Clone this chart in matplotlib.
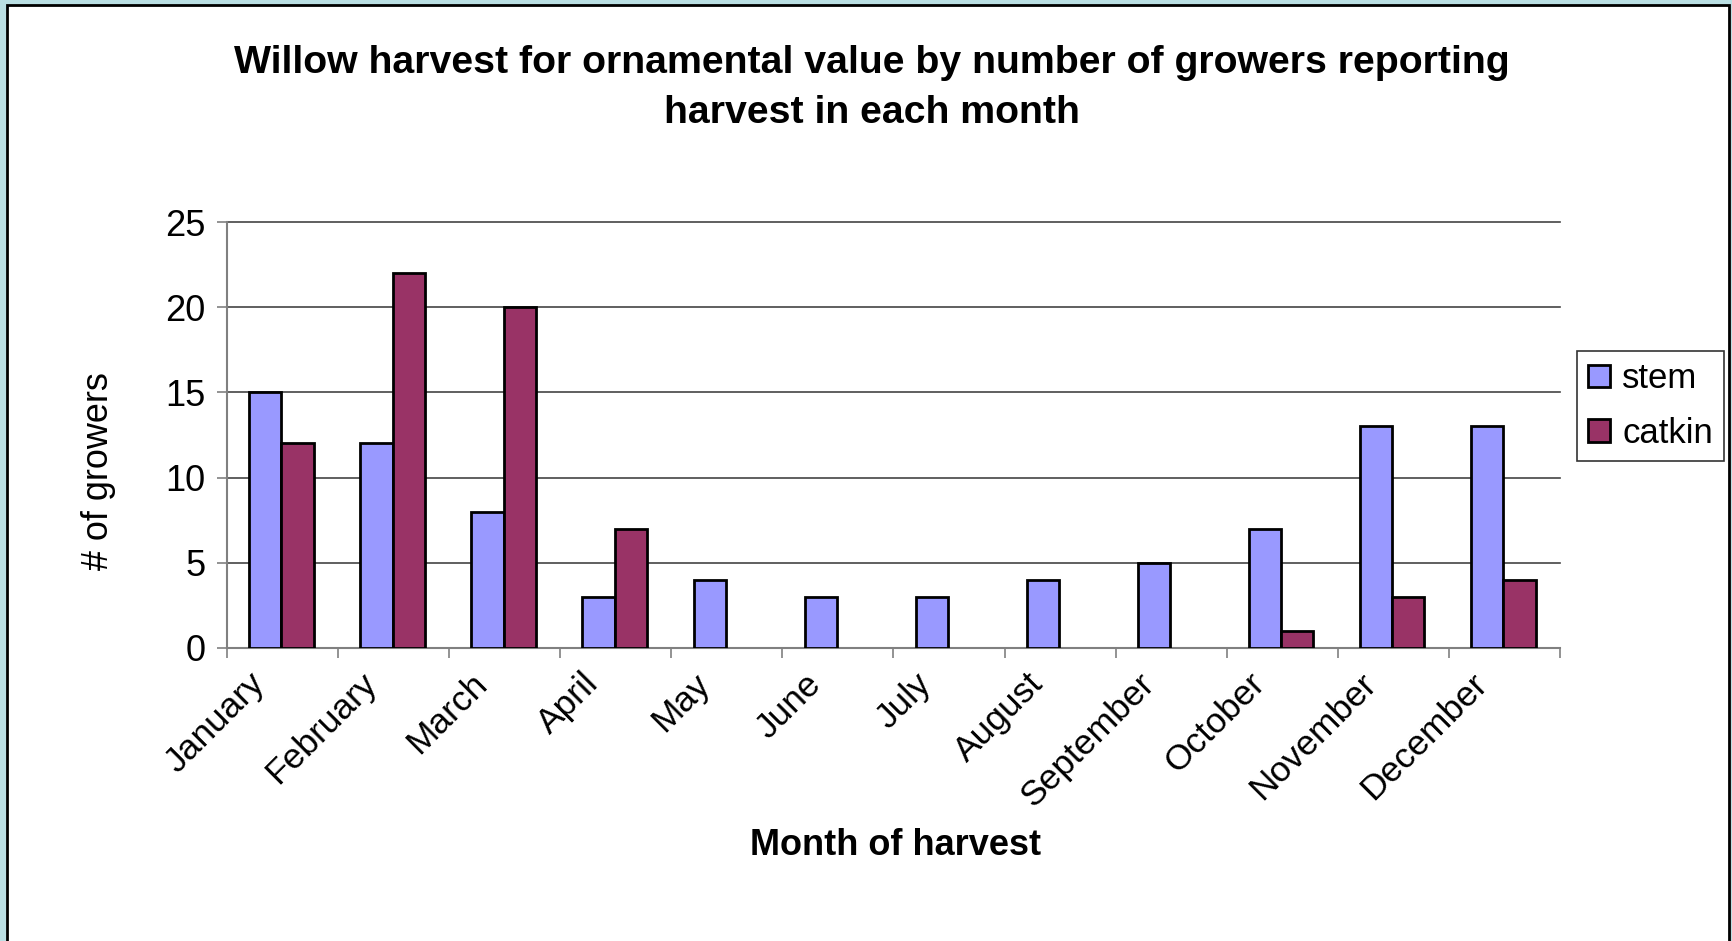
import matplotlib
matplotlib.use("Agg")
import matplotlib.pyplot as plt
from matplotlib.patches import Rectangle
from matplotlib.transforms import ScaledTranslation
import numpy as np

months = ["January", "February", "March", "April", "May", "June", "July",
          "August", "September", "October", "November", "December"]
stem = [15, 12, 8, 3, 4, 3, 3, 4, 5, 7, 13, 13]
catkin = [12, 22, 20, 7, 0, 0, 0, 0, 0, 1, 3, 4]
series_names = ["stem", "catkin"]
yticks = [0, 5, 10, 15, 20, 25]
title_lines = ["Willow harvest for ornamental value by number of growers reporting",
               "harvest in each month"]
xlabel = "Month of harvest"
ylabel = "# of growers"

W, H = 1733, 941
plt.rcParams['font.family'] = ['Liberation Sans', 'DejaVu Sans']
fig = plt.figure(figsize=(W / 100, H / 100), dpi=100)
fig.patch.set_facecolor('#BADFE3')

def fx(px):
    return px / W

def fy(py):
    return 1 - py / H

# white inner panel with black border
fig.patches.append(Rectangle((fx(7), fy(960)), fx(1729) - fx(7), fy(5) - fy(960),
                             transform=fig.transFigure, facecolor='white',
                             edgecolor='black', linewidth=2, zorder=-10))

left, right, top, bottom = 227, 1560, 222.5, 647.5
ax = fig.add_axes([fx(left), fy(bottom), fx(right) - fx(left), fy(top) - fy(bottom)])
ax.set_facecolor('none')
ax.set_zorder(2)

x = np.arange(len(months))
bw = 0.29
b1 = ax.bar(x - bw / 2 - 0.01, stem, width=bw, color='#9999FF', edgecolor='black',
            linewidth=2, label=series_names[0], zorder=3)
b2 = ax.bar(x + bw / 2 - 0.01, catkin, width=bw, color='#993366', edgecolor='black',
            linewidth=2, label=series_names[1], zorder=3)
for bars in (b1, b2):
    for p in bars:
        if p.get_height() == 0:
            p.set_visible(False)

ax.set_xlim(-0.5, len(months) - 0.5)
ax.set_ylim(0, 25)
ax.set_yticks(yticks)
ax.set_yticklabels([str(v) for v in yticks], fontsize=26)
ax.yaxis.grid(True, color='#444444', linewidth=1.2, zorder=0)
ax.set_axisbelow(True)
for gl in ax.get_ygridlines():
    gl.set_clip_on(False)

ax.set_xticks(np.arange(-0.5, len(months), 1.0))
ax.set_xticklabels([])
ax.set_xticks(x, minor=True)
ax.set_xticklabels(months, minor=True, rotation=45, ha='right',
                   rotation_mode='anchor', fontsize=25.5)
ax.tick_params(axis='x', which='major', direction='out', length=7.5, width=1.2, color='#808080')
ax.tick_params(axis='x', which='minor', length=0, pad=14)
ax.tick_params(axis='y', direction='out', length=7.5, width=1.2, color='#808080', pad=8)
shift = ScaledTranslation(-0.34, 0.0, fig.dpi_scale_trans)
for lab in ax.get_xticklabels(minor=True):
    lab.set_transform(lab.get_transform() + shift)

for s in ['top', 'right']:
    ax.spines[s].set_visible(False)
for s in ['left', 'bottom']:
    ax.spines[s].set_color('#808080')
    ax.spines[s].set_linewidth(1.5)

fig.text(fx(872), fy(73), title_lines[0], ha='center', va='baseline', fontsize=28.3,
         fontweight='bold')
fig.text(fx(872), fy(123), title_lines[1], ha='center', va='baseline', fontsize=28.3,
         fontweight='bold')
fig.text(fx(896), fy(855), xlabel, ha='center', va='baseline', fontsize=26,
         fontweight='bold')
fig.text(fx(99), fy(471), ylabel, ha='center', va='center', fontsize=25.9,
         rotation=90)

leg = fig.legend(loc='upper left', bbox_to_anchor=(fx(1577), fy(351)),
                 borderaxespad=0, fontsize=25, frameon=True, fancybox=False,
                 handlelength=0.62, handleheight=0.62, handletextpad=0.36,
                 labelspacing=0.62, borderpad=0.32)
leg.get_frame().set_edgecolor('black')
leg.get_frame().set_linewidth(1.2)

fig.savefig('out.png', dpi=100, facecolor=fig.get_facecolor())
